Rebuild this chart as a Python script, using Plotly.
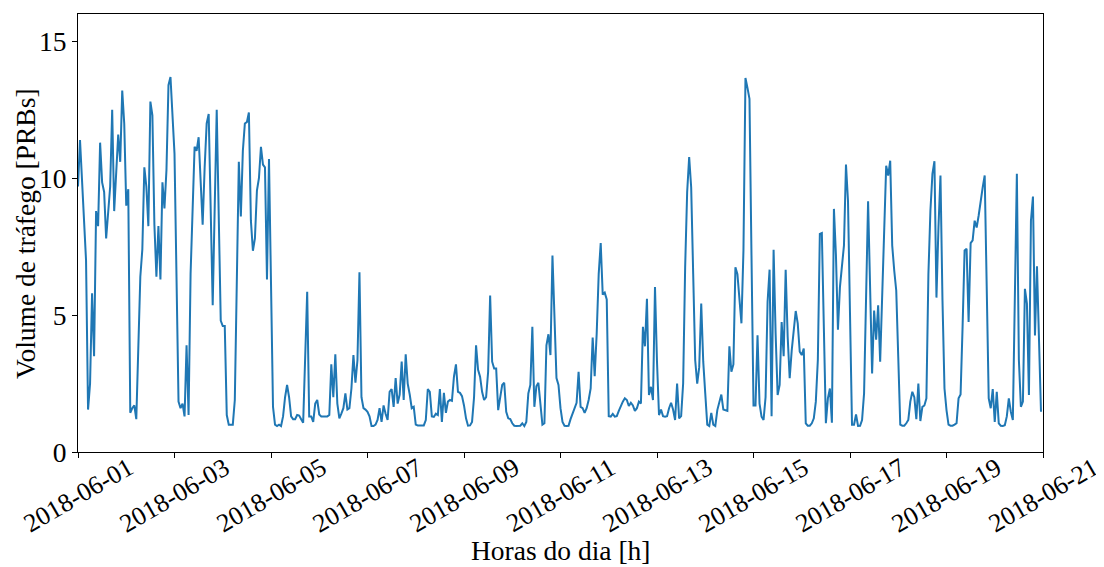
import pandas as pd
import plotly.graph_objects as go

# hora (desde 2018-06-01 00:00) e volume de tráfego
horas = [
    0, 1, 4, 5, 6, 7, 8, 9, 10, 11, 12, 13, 14, 16, 17, 18, 20, 21, 22, 23,
    24, 25, 26, 27, 28, 29, 31, 32, 33, 34, 35, 36, 37, 38, 39, 40, 41, 42, 43, 44,
    45, 46, 48, 50, 51, 52, 53, 54, 55, 56, 58, 59, 60, 61, 62, 63, 64, 65, 67, 69,
    71, 72, 73, 74, 75, 77, 78, 80, 81, 82, 83, 84, 85, 86, 87, 88, 89, 90, 91, 92,
    93, 94, 95, 97, 98, 99, 100, 101, 102, 103, 104, 105, 106, 107, 108, 109, 110, 111, 112, 114,
    115, 116, 117, 118, 119, 120, 121, 122, 123, 124, 125, 126, 127, 128, 129, 130, 131, 132, 133, 134,
    135, 136, 137, 138, 139, 140, 141, 142, 143, 144, 145, 146, 147, 148, 149, 150, 151, 152, 153, 154,
    155, 156, 157, 158, 159, 160, 161, 162, 163, 164, 165, 166, 167, 168, 169, 170, 171, 172, 173, 174,
    175, 176, 177, 178, 179, 180, 181, 182, 183, 184, 185, 186, 187, 188, 189, 190, 191, 192, 193, 194,
    195, 196, 197, 198, 199, 200, 201, 202, 203, 204, 205, 206, 207, 208, 209, 210, 211, 212, 213, 214,
    215, 216, 217, 218, 219, 220, 221, 222, 223, 224, 225, 226, 227, 228, 229, 230, 231, 232, 233, 234,
    235, 236, 237, 238, 239, 240, 241, 242, 243, 244, 245, 246, 247, 248, 249, 250, 251, 252, 253, 254,
    255, 256, 257, 258, 259, 260, 261, 262, 263, 264, 265, 266, 267, 268, 269, 270, 271, 272, 273, 274,
    275, 276, 277, 278, 279, 280, 281, 282, 283, 284, 285, 286, 287, 288, 289, 290, 291, 292, 293, 294,
    295, 296, 297, 298, 299, 300, 301, 302, 303, 304, 305, 306, 307, 308, 309, 310, 311, 312, 313, 314,
    315, 316, 317, 318, 319, 320, 321, 322, 323, 324, 325, 326, 327, 328, 329, 330, 331, 332, 333, 334,
    335, 336, 337, 338, 339, 340, 341, 342, 343, 344, 345, 346, 347, 348, 349, 350, 351, 352, 353, 354,
    355, 356, 357, 358, 359, 360, 361, 362, 363, 364, 365, 366, 367, 368, 369, 370, 371, 372, 373, 374,
    375, 376, 377, 378, 379, 380, 381, 382, 383, 384, 385, 386, 387, 388, 389, 390, 391, 393, 394, 395,
    396, 397, 398, 399, 402, 403, 404, 405, 406, 407, 408, 409, 410, 411, 412, 413, 414, 415, 416, 417,
    418, 419, 420, 421, 422, 423, 424, 425, 426, 427, 428, 429, 430, 431, 432, 433, 434, 435, 436, 437,
    438, 439, 440, 441, 442, 443, 444, 445, 446, 447, 448, 449, 450, 451, 453, 454, 455, 456, 457, 458,
    459, 460, 461, 462, 463, 464, 465, 467, 468, 469, 470, 471, 472, 473, 474, 475, 476, 477, 478, 479,
]
volume = [
    9.7, 11.4, 7.0, 1.55, 2.5, 5.8, 3.5, 8.8, 8.25, 11.3, 9.85, 9.5, 7.8, 9.7, 12.5, 8.8, 11.6, 10.6, 13.2, 12.0,
    9.0, 9.6, 1.43, 1.6, 1.7, 1.2, 6.4, 7.4, 10.4, 9.7, 8.25, 12.8, 12.3, 8.3, 6.4, 8.25, 6.3, 9.85, 8.9, 10.3,
    13.4, 13.7, 10.9, 1.84, 1.6, 1.77, 1.3, 3.9, 1.35, 6.5, 11.15, 11.0, 11.5, 10.15, 8.3, 10.4, 12.0, 12.35, 5.36, 12.5,
    4.8, 4.6, 4.6, 1.35, 1.0, 1.0, 1.9, 10.6, 8.6, 11.0, 12.0, 12.05, 12.4, 8.45, 7.35, 7.8, 9.55, 10.0, 11.15, 10.5,
    10.4, 6.3, 10.7, 1.65, 1.0, 0.95, 1.0, 0.95, 1.3, 2.0, 2.45, 2.0, 1.3, 1.2, 1.2, 1.35, 1.33, 1.2, 1.07, 5.85,
    1.3, 1.3, 1.1, 1.77, 1.9, 1.37, 1.3, 1.3, 1.3, 1.3, 1.35, 3.2, 2.0, 3.57, 1.77, 1.23, 1.4, 1.6, 2.14, 1.55,
    1.6, 2.32, 3.54, 2.53, 3.35, 6.57, 2.0, 1.6, 1.55, 1.47, 1.3, 0.95, 0.95, 1.0, 1.17, 1.6, 1.1, 1.7, 1.4, 1.17,
    2.2, 2.3, 1.65, 2.7, 1.77, 2.1, 3.3, 1.9, 3.57, 2.5, 2.1, 1.6, 1.65, 1.0, 0.97, 0.97, 0.97, 0.97, 1.17, 2.3,
    2.2, 1.3, 1.28, 1.4, 1.35, 2.3, 1.1, 2.16, 1.43, 1.84, 1.9, 1.87, 2.75, 3.2, 2.2, 2.16, 2.04, 1.7, 1.23, 0.96,
    0.97, 1.1, 2.0, 3.9, 3.0, 2.75, 2.2, 1.9, 2.0, 2.93, 5.72, 3.3, 3.05, 3.05, 1.53, 2.0, 2.45, 2.53, 1.47, 1.23,
    1.2, 1.05, 0.96, 0.95, 0.95, 0.96, 1.05, 0.95, 1.1, 2.14, 2.45, 4.57, 1.65, 2.4, 2.53, 1.84, 1.0, 1.05, 3.9, 4.3,
    3.54, 7.18, 4.7, 2.7, 2.45, 1.6, 1.1, 0.96, 0.95, 0.96, 1.2, 1.4, 1.55, 1.8, 2.93, 1.65, 1.6, 1.43, 1.6, 1.9,
    2.32, 4.18, 2.77, 4.33, 6.5, 7.63, 5.75, 5.82, 5.57, 1.31, 1.29, 1.39, 1.29, 1.31, 1.5, 1.7, 1.84, 1.96, 1.9, 1.68,
    1.8, 1.7, 1.5, 1.6, 1.84, 1.77, 4.57, 3.86, 5.6, 2.08, 2.38, 1.9, 6.03, 3.3, 1.35, 1.55, 1.31, 1.29, 1.31, 1.6,
    1.8, 1.55, 1.17, 2.5, 1.23, 1.31, 2.5, 6.75, 9.5, 10.77, 9.67, 6.5, 3.35, 2.5, 3.1, 5.42, 3.3, 2.14, 1.0, 0.95,
    1.43, 1.0, 0.95, 1.53, 1.84, 2.1, 1.55, 1.53, 1.5, 3.86, 2.93, 3.2, 6.75, 6.5, 5.6, 4.7, 7.36, 13.66, 13.3, 12.9,
    7.18, 1.7, 1.7, 4.26, 1.77, 1.29, 1.17, 2.0, 5.48, 6.66, 1.31, 7.39, 4.33, 2.08, 2.45, 4.75, 3.5, 6.66, 4.2, 2.7,
    3.7, 4.57, 5.15, 4.7, 3.66, 3.54, 3.78, 1.05, 0.96, 0.96, 1.05, 1.23, 1.84, 3.35, 7.97, 8.0, 4.7, 1.05, 1.96, 2.32,
    1.07, 8.88, 7.2, 4.47, 6.03, 6.94, 7.55, 10.5, 9.18, 5.05, 1.0, 1.0, 1.37, 0.95, 0.96, 1.17, 2.14, 9.16, 6.5, 2.87,
    5.17, 4.1, 5.36, 3.3, 10.46, 10.1, 10.64, 7.54, 6.63, 5.9, 3.47, 1.0, 0.96, 0.96, 1.05, 1.17, 1.84, 2.2, 2.0, 1.2,
    2.5, 1.13, 1.65, 1.7, 1.96, 6.5, 8.82, 10.16, 10.62, 5.64, 8.2, 10.1, 5.54, 2.32, 1.53, 1.0, 0.96, 0.96, 1.0, 1.05,
    1.96, 2.1, 4.57, 7.36, 7.42, 4.75, 7.63, 7.73, 8.45, 8.2, 8.64, 9.2, 9.67, 10.1, 1.96, 1.6, 2.3, 1.1, 2.2, 1.05,
    0.96, 0.95, 0.98, 1.3, 1.96, 1.47, 1.17, 10.16, 3.36, 1.65, 1.84, 5.96, 5.42, 2.08, 8.45, 9.33, 4.26, 6.78, 3.72, 1.47,
]
datas_ticks = ["2018-06-01", "2018-06-03", "2018-06-05", "2018-06-07", "2018-06-09", "2018-06-11",
               "2018-06-13", "2018-06-15", "2018-06-17", "2018-06-19", "2018-06-21"]

tempo = pd.Timestamp("2018-06-01") + pd.to_timedelta(horas, unit="h")
fonte = dict(family="Liberation Serif, Times New Roman, serif", size=27.5, color="black")
fonte_x = dict(fonte, size=26)

fig = go.Figure()
fig.add_trace(go.Scatter(x=tempo, y=volume, mode="lines", line=dict(color="#1f77b4", width=2), showlegend=False))

# rótulos do eixo x rodados 30 graus e centrados no tick (como no matplotlib)
for d in datas_ticks:
    fig.add_annotation(x=d, y=-0.1, xref="x", yref="paper", text=d, textangle=-30, showarrow=False,
                       xanchor="center", yanchor="middle", font=fonte_x)
fig.add_annotation(x=0.5, y=-0.226, xref="paper", yref="paper", text="Horas do dia [h]", showarrow=False,
                   xanchor="center", yanchor="middle", font=fonte)
fig.add_annotation(x=-0.055, y=0.5, xref="paper", yref="paper", text="Volume de tráfego [PRBs]", textangle=-90,
                   showarrow=False, xanchor="center", yanchor="middle", font=fonte)

fig.update_xaxes(range=["2018-06-01", "2018-06-21"], tickvals=datas_ticks, showticklabels=False,
                 ticks="outside", ticklen=5, tickwidth=1.1, tickcolor="black",
                 showline=True, linecolor="black", linewidth=1.1, mirror=True, showgrid=False, zeroline=False)
fig.update_yaxes(range=[0, 16], tickvals=[0, 5, 10, 15], ticks="outside", ticklen=5, tickwidth=1.1,
                 tickcolor="black", tickfont=fonte, showline=True, linecolor="black", linewidth=1.1,
                 mirror=True, showgrid=False, zeroline=False)
# a página tem 8 px de margem no body: compensar para que a área do gráfico caia no mesmo sítio
fig.update_layout(width=1096, height=559, margin=dict(l=70, r=61, t=6, b=115),
                  plot_bgcolor="white", paper_bgcolor="white", font=fonte)
fig.write_html("out.html")
